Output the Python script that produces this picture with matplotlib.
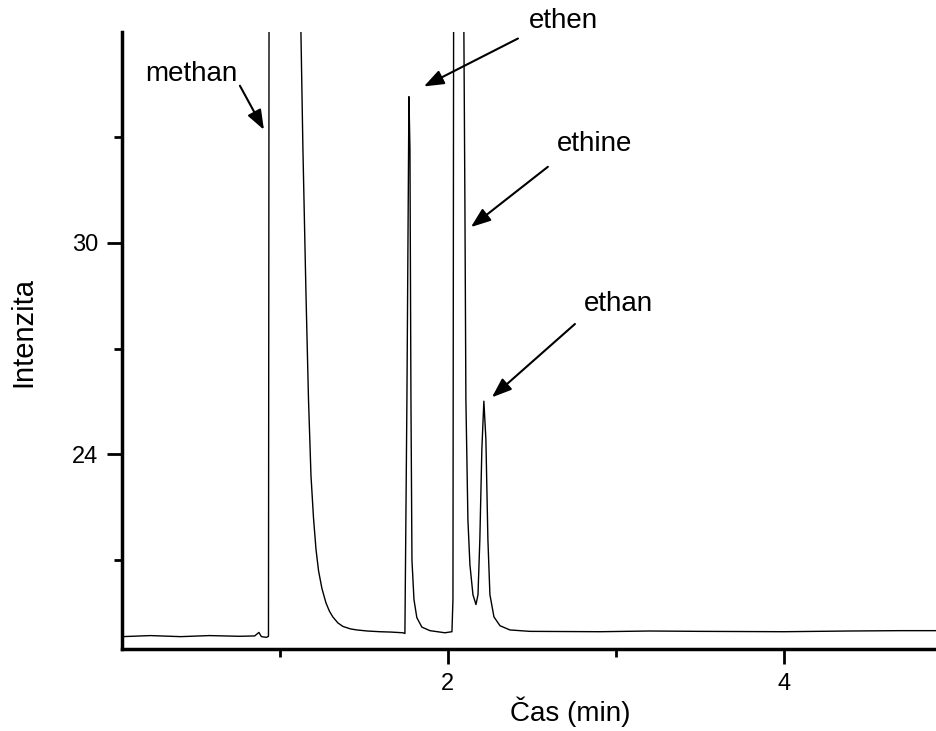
import matplotlib
matplotlib.use('Agg')
from matplotlib import pyplot as plt
from matplotlib.ticker import MultipleLocator

plt.rcParams['font.family'] = ['Liberation Sans', 'DejaVu Sans']

# chromatogram trace (time in min, intensity)
cas = [0.06, 0.23, 0.41, 0.58, 0.76, 0.85, 0.875, 0.89, 0.92, 0.932,
       0.937, 0.94, 1.12,
       1.125, 1.137, 1.155, 1.17, 1.185, 1.2, 1.215, 1.23, 1.25, 1.274,
       1.295, 1.315, 1.345, 1.375, 1.42,
       1.458, 1.52, 1.595, 1.66, 1.732, 1.744,
       1.756, 1.768, 1.774, 1.780, 1.786, 1.798, 1.815, 1.845, 1.893,
       1.982, 2.024,
       2.03, 2.036, 2.09,
       2.095, 2.101, 2.107, 2.119, 2.131, 2.149, 2.167, 2.179, 2.190,
       2.202, 2.214, 2.226, 2.238, 2.25, 2.274, 2.31, 2.369, 2.488,
       2.905, 3.2, 3.5, 4.0, 4.39, 4.69, 4.905]
intenzita = [18.83, 18.86, 18.83, 18.86, 18.84, 18.85, 18.95, 18.83, 18.81, 18.84,
             45.0, 45.0, 45.0,
             36.03, 32.67, 28.6, 25.6, 23.4, 22.2, 21.3, 20.7, 20.2, 19.79,
             19.55, 19.39, 19.22, 19.12, 19.05,
             19.02, 18.99, 18.97, 18.96, 18.94, 18.92,
             25.56, 34.15, 32.67, 25.56, 21.0, 19.88, 19.37, 19.10, 19.0,
             18.94, 18.97,
             19.88, 45.0, 45.0,
             36.03, 31.25, 25.56, 22.15, 20.87, 20.02, 19.74, 20.02, 21.58,
             24.14, 25.51, 24.43, 21.58, 20.02, 19.39, 19.14, 19.02, 18.98,
             18.97, 18.99, 18.98, 18.97, 18.99, 19.0, 19.0]

# peak labels: name, text position, arrow start, arrow tip
popisky = ['methan', 'ethen', 'ethine', 'ethan']
text_xy = [(0.47, 34.8), (2.685, 36.31), (2.875, 32.81), (3.012, 28.27)]
sipka_od = [(0.762, 34.46), (2.417, 35.8), (2.595, 32.16), (2.756, 27.70)]
sipka_do = [(0.905, 33.21), (1.857, 34.44), (2.137, 30.45), (2.262, 25.62)]


fig = plt.figure(figsize=(9.36, 7.31), dpi=100)
ax = fig.add_axes([0.1303, 0.1122, 0.8697, 0.8438])

ax.plot(cas, intenzita, color='black', lw=1.0)

ax.set_xlim(0.06, 4.905)
ax.set_ylim(18.48, 35.98)

ax.xaxis.set_major_locator(MultipleLocator(2))
ax.xaxis.set_minor_locator(MultipleLocator(1))
ax.yaxis.set_major_locator(MultipleLocator(6))
ax.yaxis.set_minor_locator(MultipleLocator(3))

for side in ['top', 'right']:
    ax.spines[side].set_visible(False)
for side in ['left', 'bottom']:
    ax.spines[side].set_linewidth(2.5)

ax.tick_params(which='major', direction='out', length=11, width=2, labelsize=17, pad=6)
ax.tick_params(which='minor', direction='out', length=6, width=2)

# axis titles sit where the original has them (not centred on the axes)
fig.text(570 / 936, 1 - 712 / 731, 'Čas (min)', fontsize=20, ha='center', va='center')
fig.text(23 / 936, 1 - 332 / 731, 'Intenzita', fontsize=21, ha='center', va='center',
         rotation=90)

for nazev, txy, od, do in zip(popisky, text_xy, sipka_od, sipka_do):
    ax.text(txy[0], txy[1], nazev, fontsize=20, ha='center', va='center',
            clip_on=False)
    ax.annotate('', xy=do, xytext=od, annotation_clip=False,
                arrowprops=dict(arrowstyle='-|>,head_length=0.8,head_width=0.3',
                                color='black', lw=1.5,
                                mutation_scale=15, shrinkA=0, shrinkB=0))

fig.savefig('out.png', dpi=100)
